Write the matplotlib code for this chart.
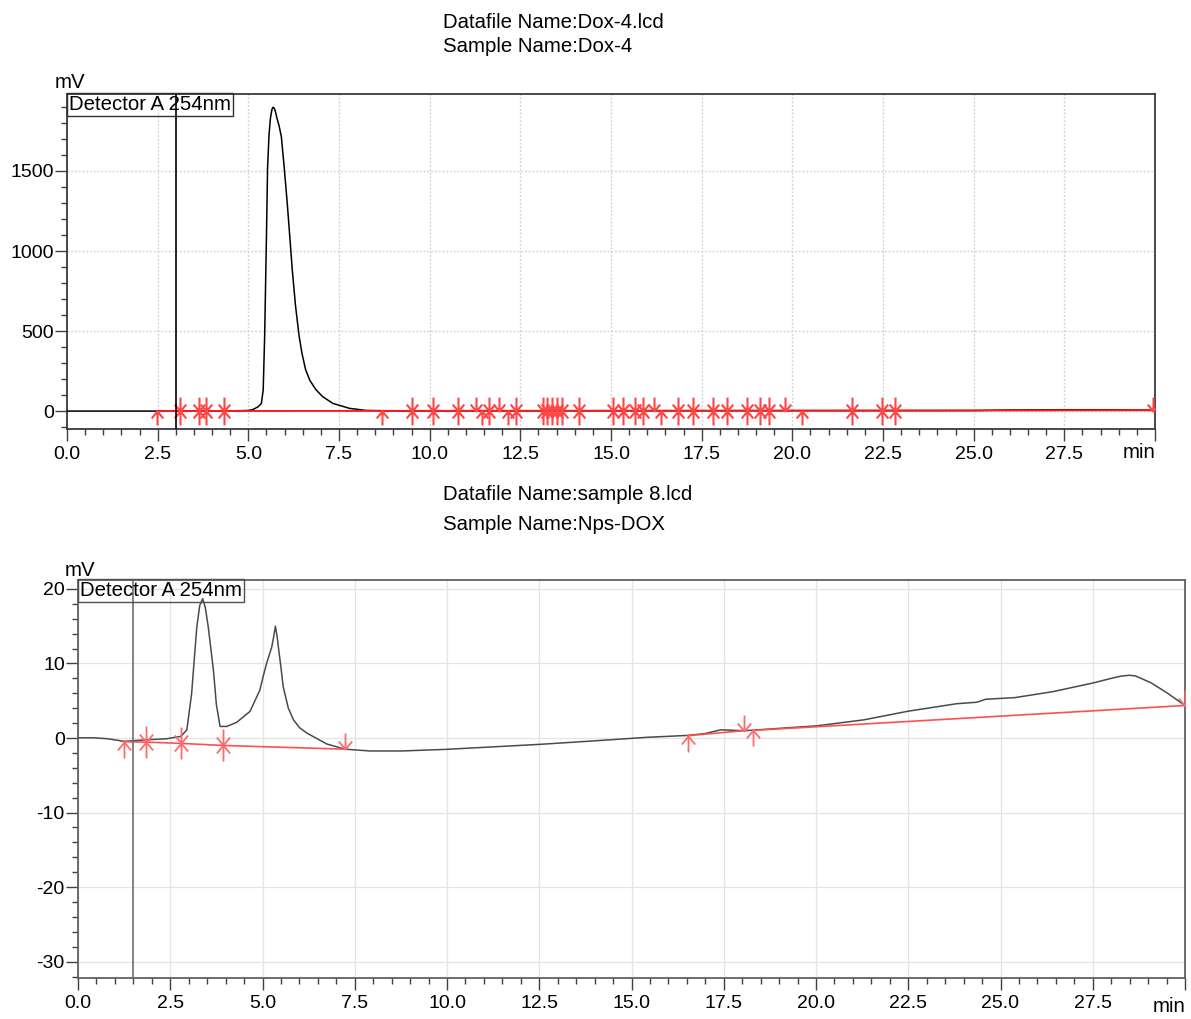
import numpy as np
import matplotlib
matplotlib.use("Agg")
import matplotlib.pyplot as plt
from matplotlib.path import Path
from matplotlib.ticker import MultipleLocator, FixedLocator, FixedFormatter

plt.rcParams['font.family'] = ['Liberation Sans', 'DejaVu Sans']
plt.rcParams['axes.unicode_minus'] = False

# ---------------- data ----------------
# Top chromatogram: Dox-4
top_title = ["Datafile Name:Dox-4.lcd", "Sample Name:Dox-4"]
top_time = [0.0, 3.0, 4.5, 5.0, 5.13, 5.27, 5.36, 5.41, 5.45, 5.50, 5.53, 5.57, 5.61,
            5.65, 5.68, 5.71, 5.74, 5.79, 5.85, 5.91, 5.99, 6.07, 6.14, 6.21, 6.30,
            6.40, 6.48, 6.58, 6.70, 6.87, 7.05, 7.33, 7.79, 8.25, 9.0,
            25.0, 26.0, 27.0, 28.5, 29.95]
top_signal = [0, 0, 1, 4, 10, 27, 48, 132, 468, 1097, 1517, 1726, 1831,
              1884, 1898, 1893, 1877, 1830, 1780, 1715, 1520, 1307, 1100, 887, 660,
              468, 360, 258, 190, 132, 90, 48, 17, 4, 1,
              3, 7, 8, 8, 6]
top_base_time = [2.49, 29.95]
top_base_val = [0, 5]
top_up = [2.49, 8.68, 11.43, 12.17, 16.39, 20.28]
top_down = [11.29, 11.92, 16.18, 19.81, 29.95]
top_both = [3.12, 3.64, 3.82, 4.33, 9.50, 10.10, 10.79, 11.64, 12.38, 13.13, 13.23,
            13.36, 13.50, 13.66, 14.12, 15.06, 15.32, 15.66, 15.89, 16.85, 17.27,
            17.82, 18.21, 18.74, 19.10, 19.37, 21.64, 22.46, 22.83]
top_cursor = 3.0

# Bottom chromatogram: Nps-DOX
bot_title = ["Datafile Name:sample 8.lcd", "Sample Name:Nps-DOX"]
bot_time = [0.0, 0.42, 0.8, 1.25, 1.83, 2.40, 2.79, 2.95, 3.08, 3.15, 3.22, 3.30, 3.38,
            3.45, 3.53, 3.60, 3.67, 3.75, 3.85, 4.03, 4.30, 4.66, 4.93, 5.02, 5.11,
            5.25, 5.30, 5.35, 5.40, 5.43, 5.50, 5.56, 5.70, 5.84, 6.00, 6.20,
            6.74, 7.24, 7.91, 8.77, 9.99, 11.35, 12.52, 14.06, 15.41, 16.53, 17.0,
            17.42, 18.04, 18.29, 20.03, 21.3, 22.5, 23.81, 24.36, 24.6, 25.39, 26.42,
            27.54, 28.0, 28.26, 28.5, 28.67, 29.08, 29.5, 30.0]
bot_signal = [0.03, 0.03, -0.1, -0.45, -0.25, -0.1, 0.22, 1.1, 6.0, 10.5, 14.9, 17.8, 18.7,
              17.5, 14.9, 12.0, 9.1, 4.5, 1.55, 1.55, 2.1, 3.56, 6.44, 8.3, 10.0,
              12.2, 13.5, 15.0, 13.5, 12.2, 9.5, 6.9, 4.0, 2.44, 1.4, 0.67,
              -0.8, -1.5, -1.74, -1.74, -1.52, -1.16, -0.85, -0.36, 0.09, 0.35, 0.6,
              1.1, 0.98, 1.05, 1.64, 2.44, 3.6, 4.6, 4.8, 5.2, 5.42, 6.22,
              7.42, 8.0, 8.3, 8.42, 8.31, 7.4, 6.1, 4.36]
bot_base_segments = [
    ([1.25, 1.83, 2.79, 3.92, 7.24], [-0.5, -0.55, -0.72, -1.0, -1.5]),
    ([16.53, 18.04], [0.31, 0.98]),
    ([18.29, 30.0], [1.02, 4.36]),
]
bot_up = [(1.25, -0.5), (16.53, 0.31), (18.29, 1.02)]
bot_down = [(7.24, -1.5), (18.04, 0.98), (30.0, 4.36)]
bot_both = [(1.83, -0.55), (2.79, -0.72), (3.92, -1.0)]
bot_cursor = 1.5

xticks = [0.0, 2.5, 5.0, 7.5, 10.0, 12.5, 15.0, 17.5, 20.0, 22.5, 25.0, 27.5, 30.0]
xticklabels = ["0.0", "2.5", "5.0", "7.5", "10.0", "12.5", "15.0", "17.5", "20.0",
               "22.5", "25.0", "27.5", ""]
top_yticks = [0, 500, 1000, 1500]
bot_yticks = [-30, -20, -10, 0, 10, 20]

# ---------------- markers ----------------
M, L = Path.MOVETO, Path.LINETO
up_path = Path([(0, 0), (0, -12), (-5, -6), (0, 0), (5, -6)], [M, L, M, L, L])
down_path = Path([(0, 0), (0, 12), (-5, 6), (0, 0), (5, 6)], [M, L, M, L, L])
both_path = Path([(0, -12), (0, 12), (-5, -6), (0, 0), (5, -6),
                  (-5, 6), (0, 0), (5, 6)],
                 [M, L, M, L, L, M, L, L])

W, H = 1191, 1019
fig = plt.figure(figsize=(W / 100, H / 100), dpi=100)


def px_axes(l, t, r, b):
    return fig.add_axes([l / W, 1 - b / H, (r - l) / W, (b - t) / H])


FS = 14
TFS = 14.7


def style_axes(ax, ylim, yticks, yminor, spine_col, grid_ls, grid_col):
    ax.set_xlim(0, 30)
    ax.set_ylim(*ylim)
    ax.xaxis.set_major_locator(FixedLocator(xticks))
    ax.xaxis.set_major_formatter(FixedFormatter(xticklabels))
    ax.xaxis.set_minor_locator(MultipleLocator(0.5))
    ax.yaxis.set_major_locator(FixedLocator(yticks))
    ax.yaxis.set_minor_locator(MultipleLocator(yminor))
    ax.tick_params(axis='both', which='major', direction='out', length=8.5, width=1.0,
                   color='#404040', labelsize=FS, labelcolor='black')
    ax.tick_params(axis='both', which='minor', direction='out', length=4.3, width=1.0,
                   color='#404040')
    ax.tick_params(axis='x', which='major', pad=4)
    ax.tick_params(axis='y', which='major', pad=1)
    for s in ax.spines.values():
        s.set_color(spine_col)
        s.set_linewidth(1.3)
    ax.grid(True, which='major', color=grid_col, linestyle=grid_ls, linewidth=0.9)
    ax.set_axisbelow(True)


# ---------------- top panel ----------------
ax1 = px_axes(67, 94, 1155, 429)
style_axes(ax1, (-112, 1981), top_yticks, 100, '#3a3a3a', (0, (1.5, 1.5)), '#cfcfcf')
ax1.plot(top_time, top_signal, color='black', lw=1.1, zorder=3)
ax1.plot(top_base_time, top_base_val, color='#ff1a1a', lw=1.4, zorder=4)
mk = dict(linestyle='none', markersize=20, markerfacecolor='none',
          markeredgecolor='#ff4545', markeredgewidth=1.5, zorder=5)
ax1.plot(top_up, [0] * len(top_up), marker=up_path, **mk)
ax1.plot(top_down, [0] * len(top_down), marker=down_path, **mk)
ax1.plot(top_both, [0] * len(top_both), marker=both_path, **mk)
ax1.axvline(top_cursor, color='black', lw=1.2, zorder=6)
ax1.text(0.002, 0.997, "Detector A 254nm", transform=ax1.transAxes, fontsize=TFS,
         ha='left', va='top', zorder=7,
         bbox=dict(boxstyle='square,pad=0.1', facecolor='none', edgecolor='#303030', lw=1.0))

# ---------------- bottom panel ----------------
ax2 = px_axes(78, 580, 1185, 978)
style_axes(ax2, (-32.2, 21.2), bot_yticks, 2, '#606060', '-', '#e4e4e4')
ax2.plot(bot_time, bot_signal, color='#4a4a4a', lw=1.1, zorder=3)
for seg_t, seg_v in bot_base_segments:
    ax2.plot(seg_t, seg_v, color='#ff5050', lw=1.2, zorder=4)
mk2 = dict(linestyle='none', markersize=23, markerfacecolor='none',
           markeredgecolor='#ff6a6a', markeredgewidth=1.3, zorder=5)
ax2.plot([p[0] for p in bot_up], [p[1] for p in bot_up], marker=up_path, **mk2)
ax2.plot([p[0] for p in bot_down], [p[1] for p in bot_down], marker=down_path, **mk2)
ax2.plot([p[0] for p in bot_both], [p[1] for p in bot_both], marker=both_path, **mk2)
ax2.axvline(bot_cursor, color='#6e6e6e', lw=1.2, zorder=6)
ax2.text(0.002, 0.997, "Detector A 254nm", transform=ax2.transAxes, fontsize=TFS,
         ha='left', va='top', zorder=7,
         bbox=dict(boxstyle='square,pad=0.1', facecolor='none', edgecolor='#505050', lw=1.0))

# ---------------- labels ----------------
def ftext(x, y, s, size=TFS, **kw):
    fig.text(x / W, 1 - y / H, s, fontsize=size, **kw)


ftext(443, 22, top_title[0], ha='left', va='center')
ftext(443, 47, top_title[1], ha='left', va='center')
ftext(443, 494, bot_title[0], ha='left', va='center')
ftext(443, 524, bot_title[1], ha='left', va='center')
ftext(70, 82, "mV", ha='center', va='center')
ftext(80, 570, "mV", ha='center', va='center')
ftext(1156, 453, "min", ha='right', va='center')
ftext(1186, 1007, "min", ha='right', va='center')

fig.savefig("out.png", dpi=100)
